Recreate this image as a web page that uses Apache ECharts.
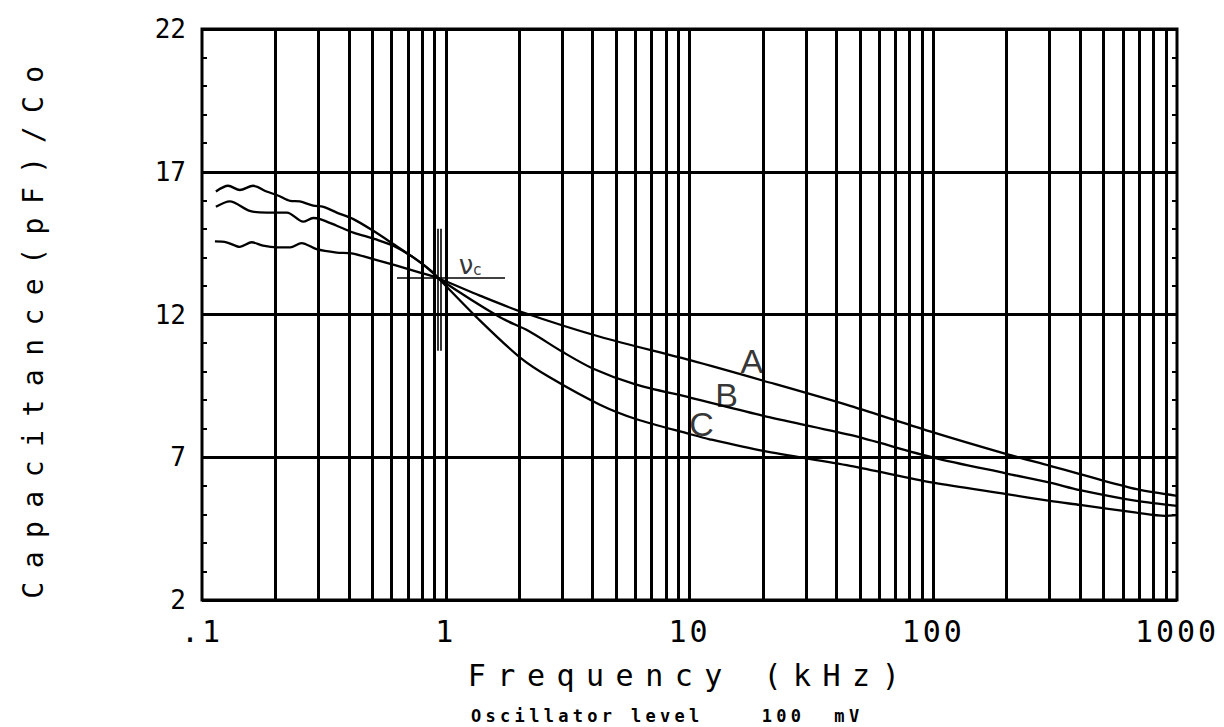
<!DOCTYPE html>
<html><head><meta charset="utf-8">
<script src="https://cdn.jsdelivr.net/npm/echarts@6/dist/echarts.min.js"></script>
<style>
html,body{margin:0;padding:0;background:#fff}
#c{width:1224px;height:727px}
#c svg text{white-space:pre}
</style>
</head><body><div id="c"></div><script>
// ---- data (frequency in kHz, capacitance ratio) ----
const freqA = [0.113,0.126,0.143,0.160,0.178,0.203,0.230,0.256,0.295,0.357,0.411,0.504,0.629,0.784,0.932,1.38,2.08,4.29,10.05,20.1,45.6,100,200,301,400,683,1000];
const capA  = [14.56,14.53,14.37,14.53,14.41,14.35,14.35,14.50,14.29,14.17,14.14,13.94,13.71,13.47,13.27,12.66,12.07,11.22,10.40,9.68,8.80,7.87,7.11,6.70,6.41,5.88,5.65];
const freqB = [0.114,0.130,0.157,0.184,0.223,0.260,0.286,0.305,0.357,0.418,0.513,0.609,0.736,0.889,0.932,1.67,2.18,3.0,4.03,6.0,10.05,20.1,45.6,100,200,301,400,683,1000];
const capB  = [15.77,15.96,15.63,15.57,15.57,15.25,15.38,15.34,15.11,14.87,14.64,14.41,14.00,13.47,13.27,11.90,11.43,10.70,10.10,9.55,9.09,8.45,7.78,6.99,6.43,6.11,5.85,5.47,5.30];
const freqC = [0.114,0.128,0.143,0.162,0.184,0.206,0.230,0.252,0.286,0.315,0.357,0.418,0.504,0.609,0.736,0.835,0.932,1.34,2.02,2.68,4.29,6.07,10.05,12.1,20.1,45.6,100,200,301,400,683,893,1000];
const capC  = [16.31,16.51,16.36,16.51,16.31,16.16,15.98,15.96,15.81,15.77,15.57,15.34,14.93,14.47,14.00,13.65,13.27,11.90,10.49,9.79,8.84,8.33,7.81,7.63,7.22,6.70,6.11,5.71,5.47,5.33,5.06,4.95,4.97];
const seriesNames = ['A','B','C'];
// label anchors for curve names [freq, value, text]
const curveLabels = [[18.0,10.38,'A'],[14.2,9.19,'B'],[11.2,8.17,'C']];
// vertical grid lines (kHz)
const xGridLines = [0.2,0.3,0.4,0.5,0.6,0.7,0.8,0.9,1,2,3,4,5,6,7,8,9,10,20,30,40,50,60,70,80,90,100,200,300,400,500,600,700,800,900];
const xTickLabels = ['.1','1','10','100','1000'];
const yTicks = [2,7,12,17,22];
// critical frequency marker
const nuC = {value:13.27, hFrom:0.631, hTo:1.75, vTop:15.0, vBottom:10.73, f1:0.925, f2:0.952, labelFreq:1.26, labelValue:13.75};

const zip = (xs, ys) => xs.map((x,i)=>[x, ys[i]]);
const chart = echarts.init(document.getElementById('c'), null, {renderer:'svg'});
const mono = 'DejaVu Sans Mono';
const axisY = (pos) => ({
  type:'value', position:pos, min:yTicks[0], max:yTicks[yTicks.length-1], interval:5,
  axisLine:{show:false},
  axisTick:{show:true, inside:true, length:5, lineStyle:{color:'#000', width:2}},
  minorTick:{show:true, splitNumber:5, length:5, lineStyle:{color:'#000', width:2}},
  splitLine:{show:pos==='left', lineStyle:{color:'#000', width:3}},
  axisLabel:{show:pos==='left', margin:16, color:'#000', fontFamily:mono, fontSize:26},
  name: pos==='left' ? 'Capacitance(pF)/Co' : '',
  nameLocation:'middle', nameGap:155,
  nameTextStyle:{color:'#000', fontFamily:mono, fontSize:28, padding:[0,22,0,0]}
});
const lineSeries = (name, data) => ({
  name, type:'line', data, showSymbol:false, symbol:'none', smooth:0.3,
  lineStyle:{color:'#000', width:2.3}, z:5, silent:true
});
const option = {
  animation:false,
  backgroundColor:'#fff',
  title:{text:'Oscillator level    100  mV', left:466, top:702,
    textStyle:{fontFamily:mono, fontWeight:'bold', fontSize:17, color:'#000'}},
  grid:{left:202, right:47, top:29, bottom:127, show:true, borderColor:'#000', borderWidth:3, containLabel:false},
  xAxis:{type:'log', logBase:10, min:0.1, max:1000,
    axisLine:{show:false}, axisTick:{show:false}, splitLine:{show:false},
    axisLabel:{margin:16, color:'#000', fontFamily:mono, fontSize:30,
      formatter:(v)=> xTickLabels[Math.round(Math.log10(v))+1]},
    name:'Frequency (kHz)', nameLocation:'middle', nameGap:60,
    nameTextStyle:{color:'#000', fontFamily:mono, fontSize:30}},
  yAxis:[axisY('left'), axisY('right')],
  series:[
    lineSeries(seriesNames[0], zip(freqA, capA)),
    lineSeries(seriesNames[1], zip(freqB, capB)),
    lineSeries(seriesNames[2], zip(freqC, capC)),
    {type:'line', data:[], silent:true, z:3,
      markLine:{silent:true, symbol:'none', animation:false, label:{show:false},
        lineStyle:{color:'#000', width:3, type:'solid'},
        data: xGridLines.map(v=>({xAxis:v}))}},
    {type:'line', data:[], silent:true, z:6,
      markLine:{silent:true, symbol:'none', animation:false, label:{show:false},
        lineStyle:{color:'#000', width:1.6, type:'solid'},
        data:[
          [{coord:[nuC.hFrom, nuC.value]},{coord:[nuC.hTo, nuC.value]}],
          [{coord:[nuC.f1, nuC.vTop]},{coord:[nuC.f1, nuC.vBottom]}],
          [{coord:[nuC.f2, nuC.vTop]},{coord:[nuC.f2, nuC.vBottom]}]
        ]}},
    {type:'scatter', symbolSize:0, silent:true, z:7,
      data: curveLabels.concat([[nuC.labelFreq, nuC.labelValue, 'ν']]),
      label:{show:true, position:'inside', color:'#000', fontFamily:'Liberation Sans', fontSize:34,
        formatter:(p)=> p.value[2]==='ν' ? '{n|ν}{s|c}' : p.value[2],
        rich:{n:{fontSize:26, fontFamily:'DejaVu Sans', color:'#000'}, s:{fontSize:15, fontFamily:'DejaVu Sans', color:'#000', verticalAlign:'bottom', padding:[10,0,0,0]}}}}
  ]
};
chart.setOption(option);
function spaceOut(){
  const ls = {'Capacitance(pF)/Co':13.5, 'Frequency (kHz)':11.5};
  document.querySelectorAll('#c svg text').forEach(t=>{
    const s = t.textContent;
    if (ls[s] !== undefined) t.setAttribute('letter-spacing', ls[s]);
    else if (s.indexOf('Oscillator')===0) t.setAttribute('letter-spacing', 4.3);
    else if (xTickLabels.indexOf(s)>=0) t.setAttribute('letter-spacing', 3);
  });
}
spaceOut();
chart.on('finished', spaceOut);
setTimeout(spaceOut, 0);
</script></body></html>
